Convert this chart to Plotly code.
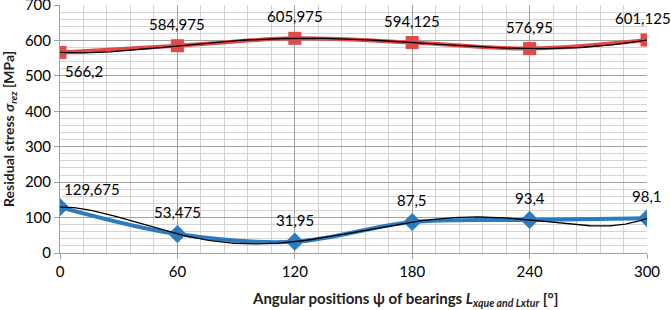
import numpy as np
import plotly.graph_objects as go

angles = [0, 60, 120, 180, 240, 300]
stress_top = [566.2, 584.975, 605.975, 594.125, 576.95, 601.125]
stress_bottom = [129.675, 53.475, 31.95, 87.5, 93.4, 98.1]
labels_top = ["566,2", "584,975", "605,975", "594,125", "576,95", "601,125"]
labels_bottom = ["129,675", "53,475", "31,95", "87,5", "93,4", "98,1"]
x_ticks = [0, 60, 120, 180, 240, 300]
y_ticks = [0, 100, 200, 300, 400, 500, 600, 700]

RED = "#E24A4A"
BLUE = "#2C7BBF"
FONT = "Lato"

# polynomial trendlines (order 5), as in the original chart
xx = np.linspace(0, 300, 301)
p_top = np.polynomial.Polynomial.fit(angles, stress_top, 5)
p_bot = np.polynomial.Polynomial.fit(angles, stress_bottom, 5)

fig = go.Figure()
fig.add_trace(go.Scatter(x=angles, y=stress_top, mode="lines+markers",
                         line=dict(color=RED, width=4, shape="spline", smoothing=1),
                         marker=dict(symbol="square", size=13, color=RED)))
fig.add_trace(go.Scatter(x=angles, y=stress_bottom, mode="lines+markers",
                         line=dict(color=BLUE, width=4, shape="spline", smoothing=1),
                         marker=dict(symbol="diamond", size=14, color=BLUE)))
fig.add_trace(go.Scatter(x=xx, y=p_top(xx), mode="lines",
                         line=dict(color="black", width=1.3)))
fig.add_trace(go.Scatter(x=xx, y=p_bot(xx), mode="lines",
                         line=dict(color="black", width=1.3)))

ann = []
for i, (x, y, t) in enumerate(zip(angles, stress_top, labels_top)):
    if i == 0:
        ann.append(dict(x=x, y=y, text=t, showarrow=False, xshift=24, yshift=-19))
    else:
        ann.append(dict(x=x, y=y, text=t, showarrow=False, xshift=-4 if i == 5 else 0, yshift=22))
for i, (x, y, t) in enumerate(zip(angles, stress_bottom, labels_bottom)):
    if i == 0:
        ann.append(dict(x=x, y=y, text=t, showarrow=False, xshift=32, yshift=18))
    else:
        ann.append(dict(x=x, y=y, text=t, showarrow=False, yshift=22))
for a in ann:
    a["font"] = dict(family=FONT, size=15, color="black")

ann.append(dict(xref="paper", yref="paper", x=-0.087, y=0.5, textangle=-90,
                showarrow=False, xanchor="center", yanchor="middle",
                text="<b>Residual stress <i>σ</i><sub><i>rez</i></sub> [MPa]</b>",
                font=dict(family=FONT, size=14, color="#222")))
ann.append(dict(xref="paper", yref="paper", x=0.5877, y=-0.1835,
                showarrow=False, xanchor="center", yanchor="middle",
                text="<b>Angular positions ψ of bearings <i>L</i><sub><i>xque and Lxtur</i></sub> [°]</b>",
                font=dict(family=FONT, size=15, color="#222")))

fig.update_layout(
    width=671, height=310,
    margin=dict(l=60, r=24, t=5, b=57),
    paper_bgcolor="white", plot_bgcolor="white",
    showlegend=False,
    annotations=ann,
    font=dict(family=FONT, size=15, color="black"),
)
fig.update_xaxes(range=[0, 300], tickvals=x_ticks, showgrid=True, gridcolor="#A0A0A0", gridwidth=1,
                 minor=dict(dtick=12, tick0=0, showgrid=True, gridcolor="#D4D4D4", gridwidth=1),
                 ticks="outside", ticklen=5, tickcolor="#A0A0A0",
                 showline=True, linecolor="#A0A0A0", zeroline=False,
                 ticklabeloverflow="allow", automargin=False,
                 tickfont=dict(family=FONT, size=15))
fig.update_yaxes(range=[0, 700], tickvals=y_ticks, showgrid=True, gridcolor="#A0A0A0", gridwidth=1,
                 minor=dict(dtick=20, tick0=0, showgrid=True, gridcolor="#D4D4D4", gridwidth=1),
                 ticks="outside", ticklen=5, tickcolor="#A0A0A0",
                 showline=True, linecolor="#A0A0A0", zeroline=False,
                 ticklabeloverflow="allow", automargin=False,
                 tickfont=dict(family=FONT, size=15))

fig.write_html("out.html", config={"displayModeBar": False},
               post_script="document.body.style.margin='0';document.body.style.overflow='hidden';")
